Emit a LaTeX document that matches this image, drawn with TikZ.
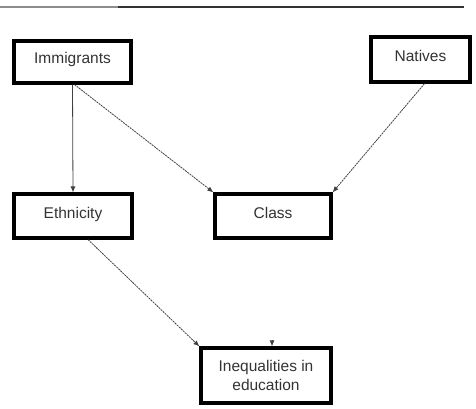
\documentclass[tikz,border=0pt]{standalone}
\usepackage{fontspec}
\setmainfont{Liberation Sans}
\usetikzlibrary{arrows.meta}
\begin{document}
\begin{tikzpicture}[x=1pt,y=-1pt,
  box/.style={draw=black,line width=3.2pt,fill=white,inner sep=0pt,
    font=\fontsize{15.5}{19}\selectfont,text=black!80},
  onerow/.style={text height=11pt,text depth=7pt},
  link/.style={draw=black!75,line width=0.8pt,-{Latex[length=6pt,width=5pt]}},
  dotlink/.style={link,dash pattern=on 2pt off 0.8pt}]
\useasboundingbox (0,0) rectangle (476,409);
% header rule
\coordinate (r0) at (0,7);
\coordinate (r1) at (118,7);
\coordinate (r2) at (464,7);
\draw[black!45,line width=1.4pt] (r0) -- (r1);
\draw[black!80,line width=1.6pt] (r1) -- (r2);
% boxes
\node[box,onerow,minimum width=117pt,minimum height=42pt] (imm) at (72.5,62) {Immigrants};
\node[box,onerow,minimum width=99pt,minimum height=45pt] (nat) at (420.5,59.5) {Natives};
\node[box,onerow,minimum width=118pt,minimum height=44pt] (eth) at (73,216) {Ethnicity};
\node[box,onerow,minimum width=116pt,minimum height=44pt] (cls) at (273,216) {Class};
\node[box,align=center,minimum width=130pt,minimum height=55pt] (ineq) at (266,375.5) {Inequalities in\\education};
% connectors
\draw[link] (imm.south) -- (eth.north);
\draw[dotlink] ([xshift=2pt]imm.south) -- (cls.north west);
\draw[dotlink] ([xshift=4pt]nat.south) -- (cls.north east);
\draw[dotlink] ([xshift=15pt]eth.south) -- (ineq.north west);
\coordinate (stub) at ([xshift=6pt,yshift=6pt]ineq.north);
\draw[link] (stub) -- ([xshift=6pt]ineq.north);
\end{tikzpicture}
\end{document}
